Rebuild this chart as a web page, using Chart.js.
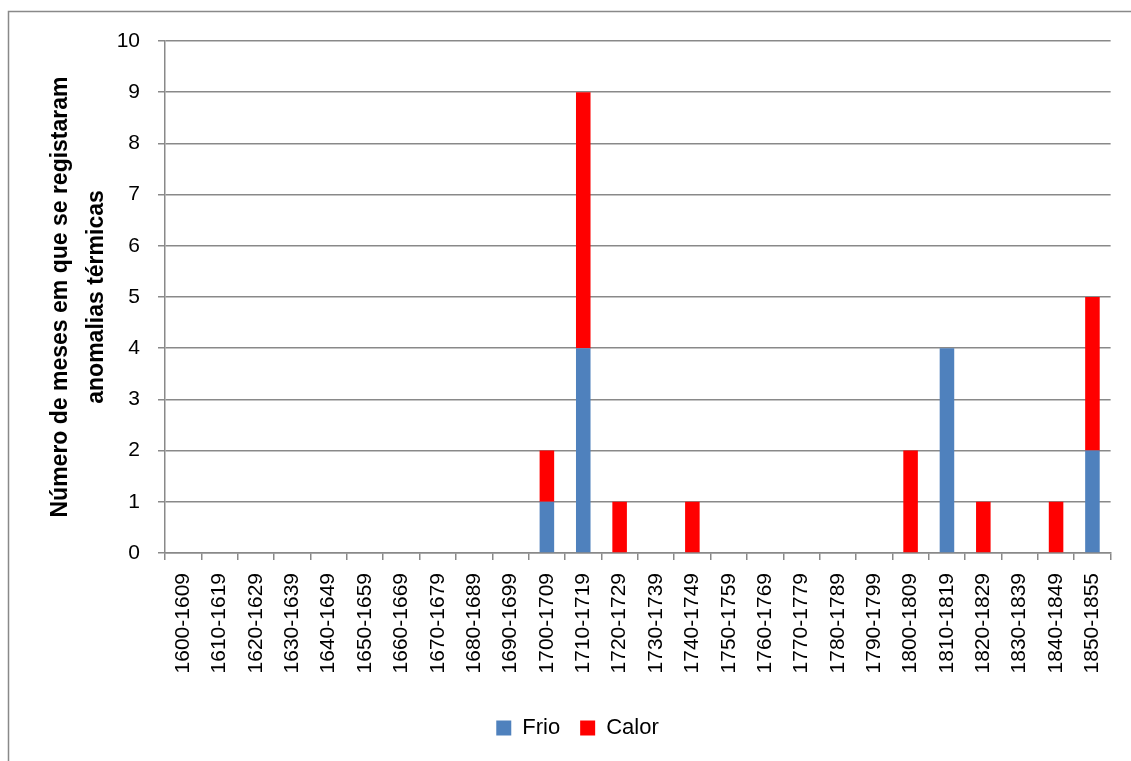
<!DOCTYPE html>
<html>
<head>
<meta charset="utf-8">
<script src="https://cdn.jsdelivr.net/npm/chart.js@4.4.1/dist/chart.umd.min.js"></script>
<style>
  html, body { margin: 0; padding: 0; background: #fff; }
  #wrap { width: 1131px; height: 761px; position: relative; }
</style>
</head>
<body>
<div id="wrap"><canvas id="anomaliasChart" width="1131" height="761"></canvas></div>
<script>
const decadas = ['1600-1609', '1610-1619', '1620-1629', '1630-1639', '1640-1649', '1650-1659',
  '1660-1669', '1670-1679', '1680-1689', '1690-1699', '1700-1709', '1710-1719', '1720-1729',
  '1730-1739', '1740-1749', '1750-1759', '1760-1769', '1770-1779', '1780-1789', '1790-1799',
  '1800-1809', '1810-1819', '1820-1829', '1830-1839', '1840-1849', '1850-1855'];
const frio =  [0, 0, 0, 0, 0, 0, 0, 0, 0, 0, 1, 4, 0, 0, 0, 0, 0, 0, 0, 0, 0, 4, 0, 0, 0, 2];
const calor = [0, 0, 0, 0, 0, 0, 0, 0, 0, 0, 1, 5, 1, 0, 1, 0, 0, 0, 0, 0, 2, 0, 1, 0, 1, 3];
const tituloY = ['Número de meses em que se registaram', 'anomalias térmicas'];

const fonte = "'Liberation Sans', Arial, sans-serif";
const cinza = '#898989';

// moldura exterior (só topo e lado esquerdo ficam visíveis)
const moldura = {
  id: 'moldura',
  beforeDraw(chart) {
    const c = chart.ctx;
    c.save();
    c.strokeStyle = cinza;
    c.lineWidth = 1.5;
    c.beginPath();
    c.moveTo(8.5, 770);
    c.lineTo(8.5, 11.5);
    c.lineTo(1140, 11.5);
    c.stroke();
    c.restore();
  }
};

const ctx = document.getElementById('anomaliasChart').getContext('2d');
const anomaliasChart = new Chart(ctx, {
  type: 'bar',
  data: {
    labels: decadas,
    datasets: [{
      label: 'Frio',
      data: frio,
      backgroundColor: '#4F81BD',
      barPercentage: 0.4,
      categoryPercentage: 1.0
    }, {
      label: 'Calor',
      data: calor,
      backgroundColor: '#FF0000',
      barPercentage: 0.4,
      categoryPercentage: 1.0
    }]
  },
  options: {
    responsive: false,
    animation: false,
    layout: { padding: { left: 43, right: 19, top: 41, bottom: 12 } },
    plugins: {
      tooltip: { enabled: false },
      legend: {
        position: 'bottom',
        labels: {
          color: '#000',
          font: { family: fonte, size: 22 },
          boxWidth: 15,
          boxHeight: 15,
          padding: 20
        }
      }
    },
    scales: {
      x: {
        stacked: true,
        grid: { display: true, drawOnChartArea: false, color: cinza, lineWidth: 1.5, tickLength: 7, offset: true },
        border: { color: cinza, width: 1.5 },
        ticks: {
          color: '#000',
          font: { family: fonte, size: 21 },
          minRotation: 90,
          maxRotation: 90,
          autoSkip: false,
          padding: 13
        },
        afterFit(scale) { scale.height = 144; }
      },
      y: {
        stacked: true,
        min: 0,
        max: 10,
        grid: { color: cinza, lineWidth: 1.5, tickLength: 7 },
        border: { color: cinza, width: 1.5 },
        ticks: {
          stepSize: 1,
          color: '#000',
          font: { family: fonte, size: 21 },
          padding: 18
        },
        title: {
          display: true,
          text: tituloY,
          color: '#000',
          font: { family: fonte, size: 23, weight: 'bold', lineHeight: 1.55 },
          padding: { top: 0, bottom: 0 }
        },
        afterFit(scale) { scale.width = 165 - 43; }
      }
    }
  },
  plugins: [moldura]
});
</script>
</body>
</html>
